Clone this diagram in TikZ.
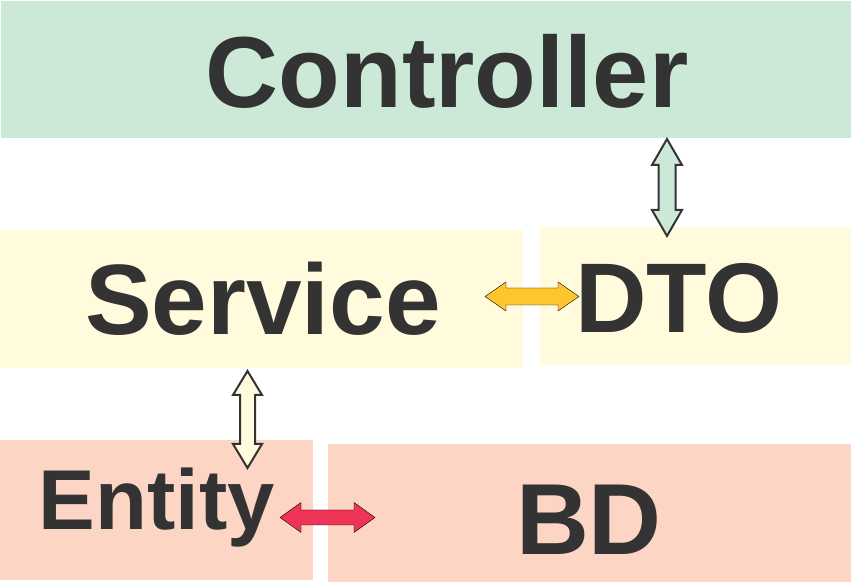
\documentclass[tikz,border=0pt]{standalone}
\usepackage{fontspec}
\setmainfont{Liberation Sans}
\usetikzlibrary{calc}
\definecolor{ctrlgreen}{HTML}{CCE8D7}
\definecolor{servyellow}{HTML}{FFFBDC}
\definecolor{entsalmon}{HTML}{FCD5C5}
\definecolor{txtgray}{HTML}{333333}
\definecolor{arryellow}{HTML}{FFC52F}
\definecolor{arrred}{HTML}{EE3457}
\tikzset{
  box/.style={draw=none, inner sep=0pt, anchor=south west},
  lbl/.style={anchor=base, inner sep=0pt, text=txtgray, font=\bfseries\fontsize{#1}{#1}\selectfont},
  outlined/.style={draw=txtgray, line width=2pt, line join=miter},
}
% vertical double arrow: options, top coord, bottom coord, head length, half head, half shaft
\newcommand\myvarrow[6]{%
  \draw[#1] let \p1=(#2), \p2=(#3) in
    (\x1,\y1) -- (\x1+#5pt,\y1-#4pt) -- (\x1+#6pt,\y1-#4pt) -- (\x1+#6pt,\y2+#4pt)
    -- (\x1+#5pt,\y2+#4pt) -- (\x1,\y2) -- (\x1-#5pt,\y2+#4pt) -- (\x1-#6pt,\y2+#4pt)
    -- (\x1-#6pt,\y1-#4pt) -- (\x1-#5pt,\y1-#4pt) -- cycle;}
% horizontal double arrow: options, left coord, right coord, head length, half head, half shaft
\newcommand\myharrow[6]{%
  \draw[#1] let \p1=(#2), \p2=(#3) in
    (\x1,\y1) -- (\x1+#4pt,\y1+#5pt) -- (\x1+#4pt,\y1+#6pt) -- (\x2-#4pt,\y1+#6pt)
    -- (\x2-#4pt,\y1+#5pt) -- (\x2,\y1) -- (\x2-#4pt,\y1-#5pt) -- (\x2-#4pt,\y1-#6pt)
    -- (\x1+#4pt,\y1-#6pt) -- (\x1+#4pt,\y1-#5pt) -- cycle;}
\begin{document}
\begin{tikzpicture}[x=1pt,y=1pt]
\useasboundingbox (0,0) rectangle (852,584);
\fill[white] (0,0) rectangle (852,584);
% boxes
\node[box, fill=ctrlgreen, minimum width=850pt, minimum height=137pt] (ctrl) at (1,446) {};
\node[box, fill=servyellow, minimum width=523pt, minimum height=138pt] (serv) at (0,216) {};
\node[box, fill=servyellow, minimum width=311pt, minimum height=138pt] (dto) at (540,219) {};
\node[box, fill=entsalmon, minimum width=313pt, minimum height=140pt] (ent) at (0,4) {};
\node[box, fill=entsalmon, minimum width=523pt, minimum height=138pt] (bd) at (328,2) {};
% labels
\node[lbl=101] (tctrl) at (447,476) {Controller};
\node[lbl=100] (tserv) at (263,249) {Service};
\node[lbl=99] (tdto) at (679,251) {DTO};
\node[lbl=85] (tent) at (156.5,54) {Entity};
\node[lbl=101] (tbd) at (589,29) {BD};
% connector end points
\coordinate (a1) at (667,445);
\coordinate (a2) at (667,348);
\coordinate (b1) at (247.5,213);
\coordinate (b2) at (247.5,116);
\coordinate (c1) at (485,287.5);
\coordinate (c2) at (579,287.5);
\coordinate (d1) at (280,66.5);
\coordinate (d2) at (375,66.5);
% connectors
\myvarrow{outlined, fill=ctrlgreen}{a1}{a2}{26}{15}{8.5}
\myvarrow{outlined, fill=servyellow}{b1}{b2}{24}{14.5}{7.5}
\myharrow{fill=arryellow}{c1}{c2}{21}{14.5}{8.5}
\myharrow{fill=arrred}{d1}{d2}{21}{15}{7.5}
\end{tikzpicture}
\end{document}
